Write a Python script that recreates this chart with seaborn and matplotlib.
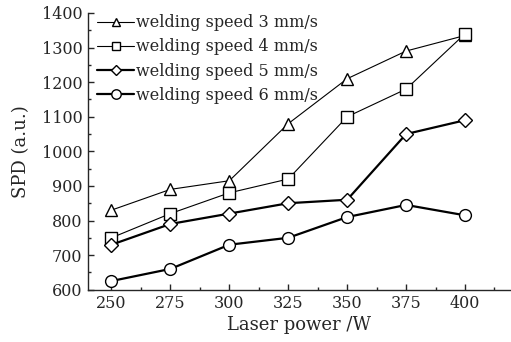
import matplotlib
matplotlib.use("Agg")
import matplotlib.pyplot as plt
import seaborn as sns
import pandas as pd
from matplotlib.ticker import MultipleLocator

power = [250, 275, 300, 325, 350, 375, 400]
speed3 = [830, 890, 915, 1080, 1210, 1290, 1335]
speed4 = [750, 820, 880, 920, 1100, 1180, 1340]
speed5 = [730, 790, 820, 850, 860, 1050, 1090]
speed6 = [625, 660, 730, 750, 810, 845, 815]
labels = ["welding speed 3 mm/s", "welding speed 4 mm/s",
          "welding speed 5 mm/s", "welding speed 6 mm/s"]
markers = ["^", "s", "D", "o"]
widths = [0.8, 0.8, 1.6, 1.6]
msizes = [8, 8, 7, 8.5]

sns.set_style("ticks")
plt.rcParams['font.family'] = ['DejaVu Serif']
plt.rcParams['mathtext.fontset'] = 'dejavuserif'

fig = plt.figure(figsize=(5.11, 3.42), dpi=100)
ax = fig.add_axes([0.172, 0.153, 0.828, 0.809])

for vals, lab, m, lw, ms in zip([speed3, speed4, speed5, speed6], labels, markers, widths, msizes):
    df = pd.DataFrame({"power": power, "spd": vals})
    sns.lineplot(data=df, x="power", y="spd", ax=ax, color="black", lw=lw,
                 marker=m, markersize=ms, markerfacecolor="white",
                 markeredgecolor="black", markeredgewidth=1.0, label=lab)

ax.set_xlim(240, 419.5)
ax.set_ylim(600, 1400)
ax.xaxis.set_major_locator(MultipleLocator(25))
ax.xaxis.set_minor_locator(MultipleLocator(12.5))
ax.yaxis.set_major_locator(MultipleLocator(100))
ax.yaxis.set_minor_locator(MultipleLocator(50))
ax.tick_params(which="major", direction="in", length=4, width=1, labelsize=11.5, pad=4)
ax.tick_params(which="minor", direction="in", length=2.5, width=1)
for s in ["top", "right"]:
    ax.spines[s].set_visible(False)
for s in ["left", "bottom"]:
    ax.spines[s].set_linewidth(1.0)

ax.set_xlabel("Laser power /W", fontsize=13, labelpad=2.5)
ax.set_ylabel("SPD (a.u.)", fontsize=13, labelpad=8)

leg = ax.legend(loc="upper left", frameon=False, fontsize=11.5, handlelength=2.3,
                handletextpad=0.1, labelspacing=0.45, borderaxespad=0.2,
                markerscale=0.8, bbox_to_anchor=(0.0, 1.03))

fig.savefig("out.png", dpi=100)
